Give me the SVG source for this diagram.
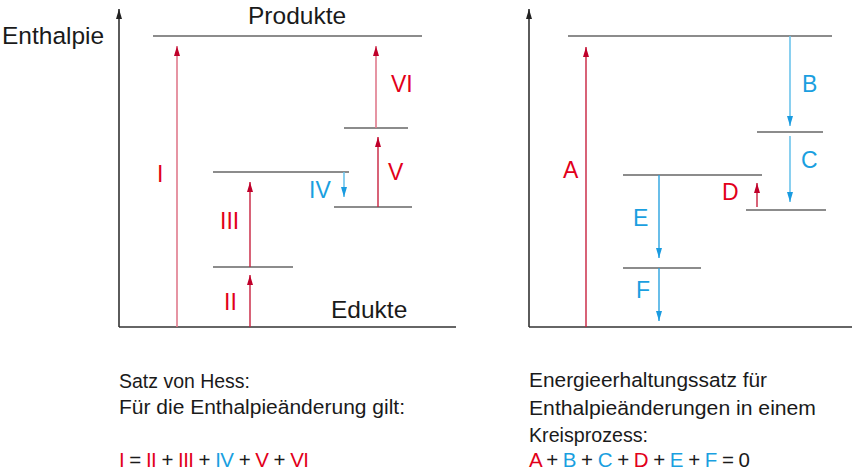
<svg xmlns="http://www.w3.org/2000/svg" width="853" height="474" viewBox="0 0 853 474">
<defs>
<style>
text{font-family:"Liberation Sans",Arial,sans-serif;fill:#1a1a1a}
.big{font-size:24.5px}
.lab{font-size:23px}
.body{font-size:20.5px}
.r{fill:#e2001a}
.b{fill:#1a9fe0}
.axis{stroke:#333;stroke-width:1.6;fill:none}
.lvl{stroke:#666;stroke-width:1.6;fill:none}
.pr{stroke:#e07a8c;stroke-width:1.6;fill:none}
.dr{stroke:#c8203e;stroke-width:1.4;fill:none}
.lb{stroke:#6cc4ec;stroke-width:1.6;fill:none}
.db{stroke:#2aa3e0;stroke-width:1.4;fill:none}
</style>
<marker id="ak" viewBox="0 0 10 6" refX="10" refY="3" markerWidth="10" markerHeight="6" markerUnits="userSpaceOnUse" orient="auto"><path d="M0,0 L10,3 L0,6 z" fill="#222"/></marker>
<marker id="ar" viewBox="0 0 10 6" refX="10" refY="3" markerWidth="10" markerHeight="6" markerUnits="userSpaceOnUse" orient="auto"><path d="M0,0 L10,3 L0,6 z" fill="#c0002a"/></marker>
<marker id="ab" viewBox="0 0 10 6" refX="10" refY="3" markerWidth="10" markerHeight="6" markerUnits="userSpaceOnUse" orient="auto"><path d="M0,0 L10,3 L0,6 z" fill="#1a9be0"/></marker>
</defs>

<g id="left-axes">
<line class="axis" x1="119" y1="327" x2="119" y2="9" marker-end="url(#ak)"/>
<line class="axis" x1="119" y1="327" x2="456" y2="327"/>
<text class="big" x="2" y="44">Enthalpie</text>
</g>
<g id="produkte"><line class="lvl" x1="153" y1="36" x2="422" y2="36"/><text class="big" x="248" y="24">Produkte</text></g>
<g id="edukte"><text class="big" x="331" y="318">Edukte</text></g>
<g id="level-267"><line class="lvl" x1="213" y1="267" x2="293" y2="267"/></g>
<g id="level-172"><line class="lvl" x1="213" y1="172" x2="349" y2="172"/></g>
<g id="level-207"><line class="lvl" x1="334" y1="207" x2="412" y2="207"/></g>
<g id="level-128"><line class="lvl" x1="344" y1="128" x2="408" y2="128"/></g>

<g id="right-axes">
<line class="axis" x1="529" y1="327" x2="529" y2="9" marker-end="url(#ak)"/>
<line class="axis" x1="529" y1="327" x2="852" y2="327"/>
</g>
<g id="r-level-36"><line class="lvl" x1="568" y1="36" x2="832" y2="36"/></g>
<g id="r-level-132"><line class="lvl" x1="757" y1="132" x2="823" y2="132"/></g>
<g id="r-level-210"><line class="lvl" x1="746" y1="210" x2="826" y2="210"/></g>
<g id="r-level-175"><line class="lvl" x1="623" y1="175" x2="762" y2="175"/></g>
<g id="r-level-268"><line class="lvl" x1="623" y1="268" x2="701" y2="268"/></g>

<g id="connectors">
<line class="pr" x1="177" y1="327" x2="177" y2="46" marker-end="url(#ar)"/>
<line class="dr" x1="250" y1="327" x2="250" y2="275" marker-end="url(#ar)"/>
<line class="dr" x1="250" y1="267" x2="250" y2="182" marker-end="url(#ar)"/>
<line class="lb" x1="344" y1="172" x2="344" y2="197" marker-end="url(#ab)"/>
<line class="dr" x1="378" y1="207" x2="378" y2="137" marker-end="url(#ar)"/>
<line class="pr" x1="376" y1="128" x2="376" y2="46" marker-end="url(#ar)"/>
<line class="dr" x1="586" y1="327" x2="586" y2="47" marker-end="url(#ar)"/>
<line class="lb" x1="790" y1="36" x2="790" y2="126" marker-end="url(#ab)"/>
<line class="lb" x1="790" y1="136" x2="790" y2="202" marker-end="url(#ab)"/>
<line class="dr" x1="757" y1="207" x2="757" y2="183" marker-end="url(#ar)"/>
<line class="db" x1="659" y1="175" x2="659" y2="258" marker-end="url(#ab)"/>
<line class="db" x1="659" y1="268" x2="659" y2="321" marker-end="url(#ab)"/>
</g>

<g id="labels">
<text class="lab r" x="157" y="182">I</text>
<text class="lab r" x="224" y="310">II</text>
<text class="lab r" x="220" y="229">III</text>
<text class="lab b" x="309" y="198">IV</text>
<text class="lab r" x="388" y="180">V</text>
<text class="lab r" x="391" y="92">VI</text>
<text class="lab r" x="563" y="178">A</text>
<text class="lab b" x="802" y="92">B</text>
<text class="lab b" x="801" y="168">C</text>
<text class="lab r" x="722" y="200">D</text>
<text class="lab b" x="633" y="226">E</text>
<text class="lab b" x="636" y="298">F</text>
</g>

<g id="left-caption">
<text class="body" x="119" y="388" textLength="131" lengthAdjust="spacingAndGlyphs">Satz von Hess:</text>
<text class="body" x="119" y="414" textLength="286" lengthAdjust="spacingAndGlyphs">Für die Enthalpieänderung gilt:</text>
<text class="body" x="119" y="467" textLength="190" lengthAdjust="spacing"><tspan class="r">I</tspan> = <tspan class="r">II</tspan> + <tspan class="r">III</tspan> + <tspan class="b">IV</tspan> + <tspan class="r">V</tspan> + <tspan class="r">VI</tspan></text>
</g>
<g id="right-caption">
<text class="body" x="529" y="387" textLength="238" lengthAdjust="spacingAndGlyphs">Energieerhaltungssatz für</text>
<text class="body" x="529" y="415" textLength="287" lengthAdjust="spacingAndGlyphs">Enthalpieänderungen in einem</text>
<text class="body" x="529" y="442" textLength="119" lengthAdjust="spacingAndGlyphs">Kreisprozess:</text>
<text class="body" x="529" y="467" textLength="221" lengthAdjust="spacing"><tspan class="r">A</tspan> + <tspan class="b">B</tspan> + <tspan class="b">C</tspan> + <tspan class="r">D</tspan> + <tspan class="b">E</tspan> + <tspan class="b">F</tspan> = 0</text>
</g>
</svg>
